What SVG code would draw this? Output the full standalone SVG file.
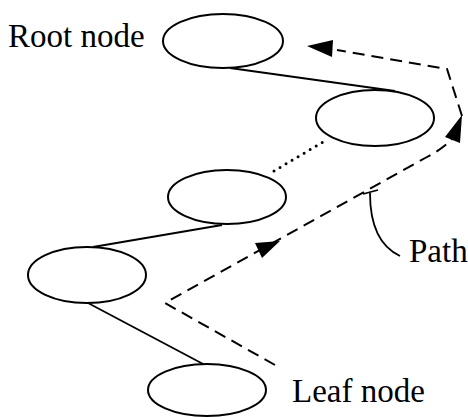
<svg xmlns="http://www.w3.org/2000/svg" width="468" height="417" viewBox="0 0 468 417">
<style>
.node{fill:#fff;stroke:#000;stroke-width:2}
.edge{fill:none;stroke:#000;stroke-width:1.8}
.dash{fill:none;stroke:#000;stroke-width:2;stroke-dasharray:12 7}
.dot{fill:none;stroke:#000;stroke-width:3;stroke-dasharray:0 7;stroke-linecap:round}
.lbl{font-family:"Liberation Serif","Times New Roman",serif;font-size:33px;fill:#000}
.ah{fill:#000}
</style>
<rect width="468" height="417" fill="#fff"/>
<g id="connectors">
<line class="edge" x1="230" y1="68" x2="395" y2="91"/>
<line class="dot" x1="274" y1="171" x2="323" y2="142"/>
<line class="edge" x1="222" y1="225" x2="93" y2="247"/>
<line class="edge" x1="88" y1="303" x2="205" y2="365"/>
<path class="dash" d="M275,365 L165,303 L427,157 Q444,148 452,139"/>
<path class="dash" d="M462,116 L447,69 L337,50"/>
<polygon class="ah" points="307,46 333,40 332,57"/>
<polygon class="ah" points="462,115 445,137 460,143"/>
<polygon class="ah" points="280,241 255,243 262,258"/>
<path class="edge" d="M370,193 Q370,242 400,256"/>
<line class="edge" x1="363" y1="194" x2="378" y2="190"/>
</g>
<g id="root"><ellipse class="node" cx="223" cy="41" rx="60" ry="27"/><text class="lbl" x="8" y="47">Root node</text></g>
<g id="n2"><ellipse class="node" cx="375" cy="118" rx="59" ry="28"/></g>
<g id="n3"><ellipse class="node" cx="227" cy="197" rx="59" ry="27"/></g>
<g id="n4"><ellipse class="node" cx="87" cy="275" rx="59" ry="28"/></g>
<g id="leaf"><ellipse class="node" cx="207" cy="390" rx="59" ry="26"/><text class="lbl" x="292" y="402">Leaf node</text></g>
<g id="pathlabel"><text class="lbl" x="409" y="262">Path</text></g>
</svg>
